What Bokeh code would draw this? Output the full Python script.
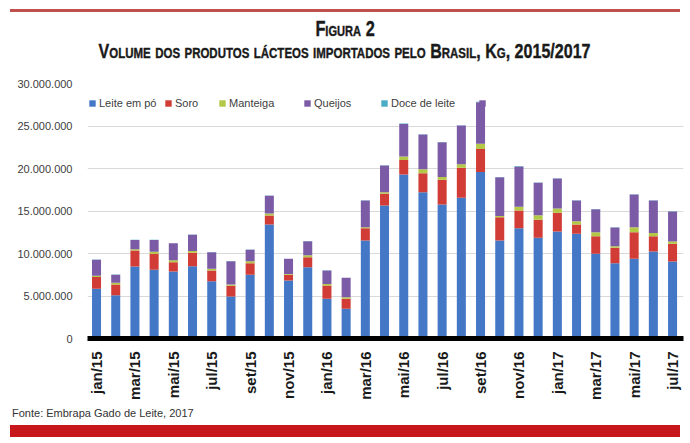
import numpy as np
from bokeh.plotting import figure
from bokeh.models import ColumnDataSource, FixedTicker, Legend, LegendItem, Div, Range1d
from bokeh.layouts import column
from bokeh.embed import file_html
from bokeh.resources import INLINE

months = ["jan/15", "fev/15", "mar/15", "abr/15", "mai/15", "jun/15", "jul/15", "ago/15",
          "set/15", "out/15", "nov/15", "dez/15", "jan/16", "fev/16", "mar/16", "abr/16",
          "mai/16", "jun/16", "jul/16", "ago/16", "set/16", "out/16", "nov/16", "dez/16",
          "jan/17", "fev/17", "mar/17", "abr/17", "mai/17", "jun/17", "jul/17"]

# values in millions of kg
leite = [5.84, 5.10, 8.47, 8.10, 7.88, 8.50, 6.75, 4.94, 7.50, 13.40, 6.82, 8.39, 4.67, 3.49,
         11.53, 15.65, 19.29, 17.20, 15.76, 16.55, 19.60, 11.53, 12.98, 11.84, 12.59, 12.31,
         9.96, 8.86, 9.37, 10.24, 9.06]
soro = [1.40, 1.25, 1.88, 1.86, 1.10, 1.60, 1.25, 1.26, 1.36, 1.07, 0.67, 1.18, 1.57, 1.18,
        1.45, 1.37, 1.71, 2.25, 2.91, 3.53, 2.70, 2.74, 2.08, 2.12, 2.19, 1.10, 2.08, 1.81,
        3.14, 1.80, 2.08]
manteiga = [0.15, 0.20, 0.15, 0.24, 0.22, 0.20, 0.20, 0.15, 0.24, 0.23, 0.11, 0.23, 0.16, 0.18,
            0.12, 0.18, 0.40, 0.45, 0.33, 0.42, 0.60, 0.13, 0.44, 0.54, 0.52, 0.39, 0.46, 0.18,
            0.59, 0.36, 0.26]
queijos = [1.87, 0.95, 1.10, 1.40, 2.00, 1.90, 1.95, 2.75, 1.33, 2.10, 1.77, 1.65, 1.60, 2.29,
           3.14, 3.15, 3.85, 4.10, 4.10, 4.56, 4.90, 4.58, 4.74, 3.81, 3.52, 2.44, 2.72, 2.21,
           3.84, 3.84, 3.54]
doce = [0.03, 0.02, 0.03, 0.03, 0.02, 0.03, 0.02, 0.02, 0.03, 0.03, 0.02, 0.03, 0.02, 0.02,
        0.03, 0.03, 0.04, 0.04, 0.03, 0.04, 0.04, 0.03, 0.04, 0.03, 0.04, 0.03, 0.03, 0.02,
        0.04, 0.03, 0.03]

series = ["Leite em pó", "Soro", "Manteiga", "Queijos", "Doce de leite"]
keys = ["leite", "soro", "manteiga", "queijos", "doce"]
colors = ["#4478c6", "#d23c37", "#b3c846", "#7b5aa6", "#4bacc6"]

y_ticks = [0, 5000000, 10000000, 15000000, 20000000, 25000000, 30000000]
y_labels = ["0", "5.000.000", "10.000.000", "15.000.000", "20.000.000", "25.000.000", "30.000.000"]

source = ColumnDataSource(dict(
    x=list(range(len(months))),
    leite=np.array(leite) * 1e6,
    soro=np.array(soro) * 1e6,
    manteiga=np.array(manteiga) * 1e6,
    queijos=np.array(queijos) * 1e6,
    doce=np.array(doce) * 1e6,
))

p = figure(width=684, height=335, output_backend="svg", toolbar_location=None,
           x_range=Range1d(-0.47, len(months) - 1 + 0.57), y_range=Range1d(0, 30000000),
           min_border_top=13, min_border_bottom=67, min_border_left=87, min_border_right=1)
p.outline_line_color = None
p.background_fill_color = "white"
p.border_fill_color = "white"

rs = p.vbar_stack(keys, x="x", width=0.47, color=colors, line_color=None, source=source)

p.xgrid.grid_line_color = None
p.ygrid.grid_line_color = "#d9d9d9"
p.ygrid.grid_line_width = 1
p.yaxis.ticker = FixedTicker(ticks=y_ticks)
p.yaxis.major_label_overrides = {t: l for t, l in zip(y_ticks, y_labels)}
p.yaxis.axis_line_color = None
p.yaxis.major_tick_line_color = None
p.yaxis.minor_tick_line_color = None
p.yaxis.major_label_text_font = "Liberation Sans"
p.yaxis.major_label_text_font_size = "11px"
p.yaxis.major_label_text_color = "#404040"
p.yaxis.major_label_standoff = 9

x_ticks = list(range(0, len(months), 2))
p.xaxis.ticker = FixedTicker(ticks=x_ticks)
p.xaxis.major_label_overrides = {i: months[i] for i in x_ticks}
p.xaxis.axis_line_color = "black"
p.xaxis.axis_line_width = 5
p.xaxis.major_tick_line_color = None
p.xaxis.minor_tick_line_color = None
p.xaxis.major_label_orientation = np.pi / 2
p.xaxis.major_label_text_font = "Liberation Sans"
p.xaxis.major_label_text_font_style = "bold"
p.xaxis.major_label_text_font_size = "15px"
p.xaxis.major_label_text_color = "#1a1a1a"
p.xaxis.major_label_standoff = 7

legend_labels = series + ["\u00a0"]
legend_rs = list(rs) + [rs[3]]
legend_x = [1, 77, 131, 216, 293, 391]
for lab, r, lx in zip(legend_labels, legend_rs, legend_x):
    leg = Legend(items=[LegendItem(label=lab, renderers=[r])], location=(lx, 229),
                 orientation="horizontal", padding=0, margin=0, border_line_color=None,
                 background_fill_alpha=0, glyph_width=8, glyph_height=8, label_standoff=3,
                 label_text_font="Liberation Sans", label_text_font_size="11px",
                 label_text_color="#404040")
    p.add_layout(leg)

title_html = (
    '<div style="width:670px;height:58px;margin-left:10px;margin-top:9px;border-top:3px solid #c0504d;'
    'text-align:center;font-family:\'Liberation Sans\',Arial,sans-serif;font-weight:bold;'
    'font-variant:small-caps;color:#1a1a1a;-webkit-text-stroke:0.4px #1a1a1a;">'
    '<div style="margin-top:6px;line-height:22px;height:22px;font-size:22px;">'
    '<span style="display:inline-block;transform:scaleX(0.74);">Figura 2</span></div>'
    '<div style="line-height:22px;height:22px;font-size:21px;white-space:nowrap;">'
    '<span style="display:inline-block;transform:scaleX(0.765);">'
    'Volume dos produtos lácteos importados pelo Brasil, Kg, 2015/2017</span></div></div>'
)
title_div = Div(text=title_html, width=684, height=70, margin=(0, 0, 0, 0))

foot_html = (
    '<div style="font-family:\'Liberation Sans\',Arial,sans-serif;font-size:11px;color:#333;'
    'line-height:14px;padding-top:1px;padding-left:12px;white-space:nowrap;">'
    'Fonte: Embrapa Gado de Leite, 2017</div>'
    '<div style="margin-top:5px;margin-left:10px;width:670px;height:12px;background:#c8161d;"></div>'
)
foot_div = Div(text=foot_html, width=684, height=33, margin=(0, 0, 0, 0))

layout = column(title_div, p, foot_div, spacing=0)
open("out.html", "w").write(file_html(layout, INLINE))
